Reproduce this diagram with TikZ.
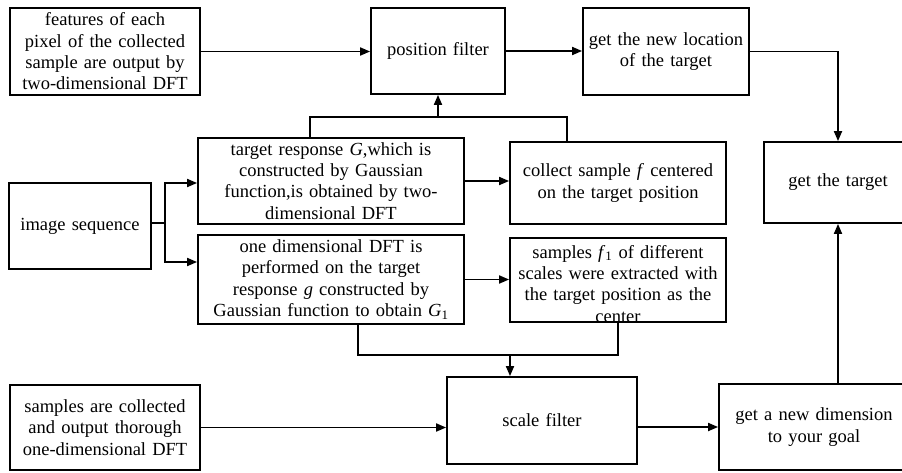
\documentclass[tikz,border=0pt]{standalone}
\usepackage{fontspec}
\setmainfont{Liberation Serif}
\usetikzlibrary{arrows.meta}
\tikzset{blk/.style={draw, line width=1.8pt, align=center, inner sep=0pt, font=\fontsize{18.5}{21.3}\selectfont}}
\tikzset{lnk/.style={line width=1.8pt}}
\tikzset{arr/.style={lnk, -{Triangle[length=10pt,width=8pt]}}}

\begin{document}
\begin{tikzpicture}[x=1pt, y=-1pt]
\useasboundingbox (0,0) rectangle (902,472);
\clip (0,0) rectangle (902,472);
% top row
\node[blk, minimum width=190pt, minimum height=87pt, text width=182pt] (feat) at (105,51.5) {features of each\\pixel of the collected\\sample are output by\\two-dimensional DFT};
\node[blk, minimum width=134pt, minimum height=86pt, text width=126pt] (posf) at (438,51) {position filter};
\node[blk, minimum width=166pt, minimum height=87pt, text width=158pt] (newloc) at (666,51.5) {get the new location\\of the target};
% middle rows
\node[blk, minimum width=142pt, minimum height=86pt, text width=134pt] (imgseq) at (80,226) {image sequence};
\node[blk, minimum width=266pt, minimum height=86pt, text width=258pt] (resp) at (331,181) {target response \textit{G},which is\\constructed by Gaussian\\function,is obtained by two-\\dimensional DFT};
\node[blk, minimum width=216pt, minimum height=82pt, text width=208pt] (coll) at (618,183) {collect sample \textit{f} centered\\on the target position};
\node[blk, minimum width=148pt, minimum height=81pt, text width=140pt] (target) at (838,182.5) {get the target};
\node[blk, minimum width=266pt, minimum height=89pt, text width=258pt] (onedim) at (331,279.5) {one dimensional DFT is\\performed on the target\\response \textit{g} constructed by\\Gaussian function to obtain \textit{G}\textsubscript{1}};
\node[blk, minimum width=216pt, minimum height=84pt, text width=208pt, text height=20.1pt, text depth=63.9pt] (samp) at (618,280) {samples \textit{f}\textsubscript{1} of different\\scales were extracted with\\the target position as the\\center};
% bottom row
\node[blk, minimum width=190pt, minimum height=85pt, text width=182pt] (coldft) at (105,427.5) {samples are collected\\and output thorough\\one-dimensional DFT};
\node[blk, minimum width=190pt, minimum height=87pt, text width=182pt] (scalef) at (542,420.5) {scale filter};
\node[blk, minimum width=190pt, minimum height=86pt, text width=182pt] (dim) at (814,427) {get a new dimension\\to your goal};

\draw[arr] (feat.east) -- (feat.east -| posf.west);
\draw[arr] (posf.east) -- (posf.east -| newloc.west);
\draw[arr] (newloc.east) -| (target.north);
% joins above and below the middle rows
\coordinate (tbus) at (438,117);
\draw[lnk] ([xshift=-21pt]resp.north) |- (tbus) -| ([xshift=-51pt]coll.north);
\draw[arr] (tbus) -- (posf.south);
\coordinate (split) at (165,223);
\draw[lnk] (imgseq.east |- split) -- (split);
\draw[arr] (split) |- ([yshift=-2pt]resp.west);
\draw[arr] (split) |- ([yshift=17.5pt]onedim.west);
\draw[arr] (resp.east) -- (resp.east -| coll.west);
\draw[arr] (onedim.east) -- (onedim.east -| samp.west);
\coordinate (bbus) at (510,355);
\draw[lnk] ([xshift=27pt]onedim.south) |- (bbus) -| (samp.south);
\draw[arr] (bbus) -- (bbus |- scalef.north);
\draw[arr] (coldft.east) -- (coldft.east -| scalef.west);
\draw[arr] (scalef.east |- dim.west) -- (dim.west);
\draw[arr] (target.south |- dim.north) -- (target.south);
\end{tikzpicture}
\end{document}
